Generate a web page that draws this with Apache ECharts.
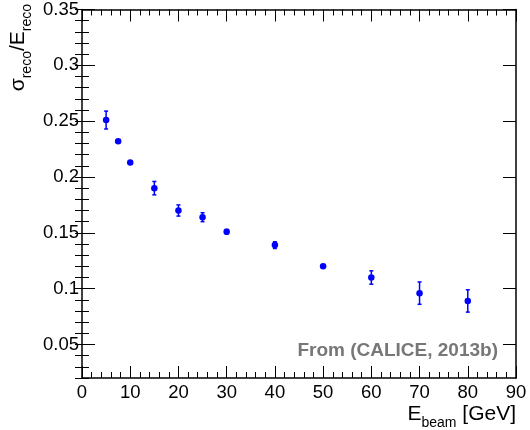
<!DOCTYPE html>
<html>
<head>
<meta charset="utf-8">
<script src="https://cdn.jsdelivr.net/npm/echarts@6/dist/echarts.min.js"></script>
<style>
  html, body { margin: 0; padding: 0; background: #fff; }
  #main { width: 530px; height: 430px; }
</style>
</head>
<body>
<div id="main"></div>
<script>
// beam energy [GeV] and relative resolution
var energies = [5, 7.5, 10, 15, 20, 25, 30, 40, 50, 60, 70, 80];
var resolution = [0.251, 0.232, 0.213, 0.190, 0.170, 0.164, 0.151, 0.139, 0.120, 0.110, 0.096, 0.089];
var resErr = [0.008, 0.001, 0.001, 0.006, 0.005, 0.004, 0.002, 0.003, 0.001, 0.006, 0.010, 0.010];

var yTicks = [0.05, 0.1, 0.15, 0.2, 0.25, 0.3, 0.35];
var yTickLabels = ['0.05', '0.1', '0.15', '0.2', '0.25', '0.3', '0.35'];

var FONT = '"Liberation Sans", Arial, Helvetica, sans-serif';
var blue = '#0000ff';

var dom = document.getElementById('main');
var chart = echarts.init(dom);

var points = energies.map(function (e, i) { return [e, resolution[i]]; });
var bars = energies.map(function (e, i) { return [e, resolution[i], resErr[i]]; });

// rich styles for titles with subscripts
var titleRich = {
    a: { fontSize: 21, fontFamily: FONT, fill: '#000', lineHeight: 22, verticalAlign: 'top' },
    b: { fontSize: 14, fontFamily: FONT, fill: '#000', lineHeight: 14, padding: [12, 0, 0, 0], verticalAlign: 'top' }
};

function xAx(pos) {
    return {
        type: 'value', position: pos, min: 0, max: 90, interval: 10,
        axisLine: { show: true, onZero: false, lineStyle: { color: '#000', width: 1.5 } },
        axisTick: { show: true, inside: true, length: 12, lineStyle: { color: '#000' } },
        minorTick: { show: true, splitNumber: 5, length: 6, lineStyle: { color: '#000' } },
        axisLabel: {
            show: pos === 'bottom', color: '#000', fontSize: 18.5, fontFamily: FONT, margin: 5,
            showMinLabel: true, showMaxLabel: true
        },
        splitLine: { show: false }
    };
}

function yMajor(pos) {
    return {
        type: 'value', position: pos, min: 0.02, max: 0.35,
        axisLine: { show: true, onZero: false, lineStyle: { color: '#000', width: 1.5 } },
        axisTick: { show: true, inside: true, length: 13, customValues: yTicks, lineStyle: { color: '#000' } },
        axisLabel: {
            show: pos === 'left', customValues: yTicks, color: '#000', fontSize: 18.5, fontFamily: FONT, margin: 3,
            formatter: function (v) {
                var k = yTicks.findIndex(function (t) { return Math.abs(t - v) < 1e-6; });
                return k >= 0 ? yTickLabels[k] : '';
            }
        },
        splitLine: { show: false }
    };
}

function yMinor(pos) {
    return {
        type: 'value', position: pos, min: 0.02, max: 0.35, interval: 0.01,
        axisLine: { show: false },
        axisTick: { show: true, inside: true, length: 7, lineStyle: { color: '#000' } },
        axisLabel: { show: false },
        splitLine: { show: false }
    };
}

var option = {
    animation: false,
    backgroundColor: '#fff',
    grid: { left: 82, right: 14, top: 7, bottom: 52 },
    xAxis: [xAx('bottom'), xAx('top')],
    yAxis: [yMajor('left'), yMajor('right'), yMinor('left'), yMinor('right')],
    graphic: [
        {
            type: 'text', x: 498, y: 351,
            style: {
                text: 'From (CALICE, 2013b)', fill: '#777777', align: 'right', verticalAlign: 'middle',
                font: 'bold 19px ' + FONT
            }
        },
        {
            type: 'text', x: 516, y: 404,
            style: { text: '{a|E}{b|beam}{a| [GeV]}', align: 'right', verticalAlign: 'top', rich: titleRich }
        },
        {
            type: 'text', x: 30, y: 4, rotation: Math.PI / 2,
            style: { text: '{a|σ}{b|reco}{a|/E}{b|reco}', align: 'right', verticalAlign: 'bottom', rich: titleRich }
        }
    ],
    series: [
        {
            type: 'custom',
            xAxisIndex: 0, yAxisIndex: 0,
            data: bars,
            renderItem: function (params, api) {
                var x = api.value(0), y = api.value(1), e = api.value(2);
                var hi = api.coord([x, y + e]);
                var lo = api.coord([x, y - e]);
                var st = { stroke: blue, lineWidth: 1.5 };
                return {
                    type: 'group',
                    children: [
                        { type: 'line', shape: { x1: hi[0], y1: hi[1], x2: lo[0], y2: lo[1] }, style: st },
                        { type: 'line', shape: { x1: hi[0] - 2, y1: hi[1], x2: hi[0] + 2, y2: hi[1] }, style: st },
                        { type: 'line', shape: { x1: lo[0] - 2, y1: lo[1], x2: lo[0] + 2, y2: lo[1] }, style: st }
                    ]
                };
            },
            z: 2
        },
        {
            type: 'scatter',
            xAxisIndex: 0, yAxisIndex: 0,
            data: points,
            symbol: 'circle',
            symbolSize: 6.5,
            itemStyle: { color: blue, opacity: 1 },
            z: 3
        }
    ]
};

chart.setOption(option);
</script>
</body>
</html>
